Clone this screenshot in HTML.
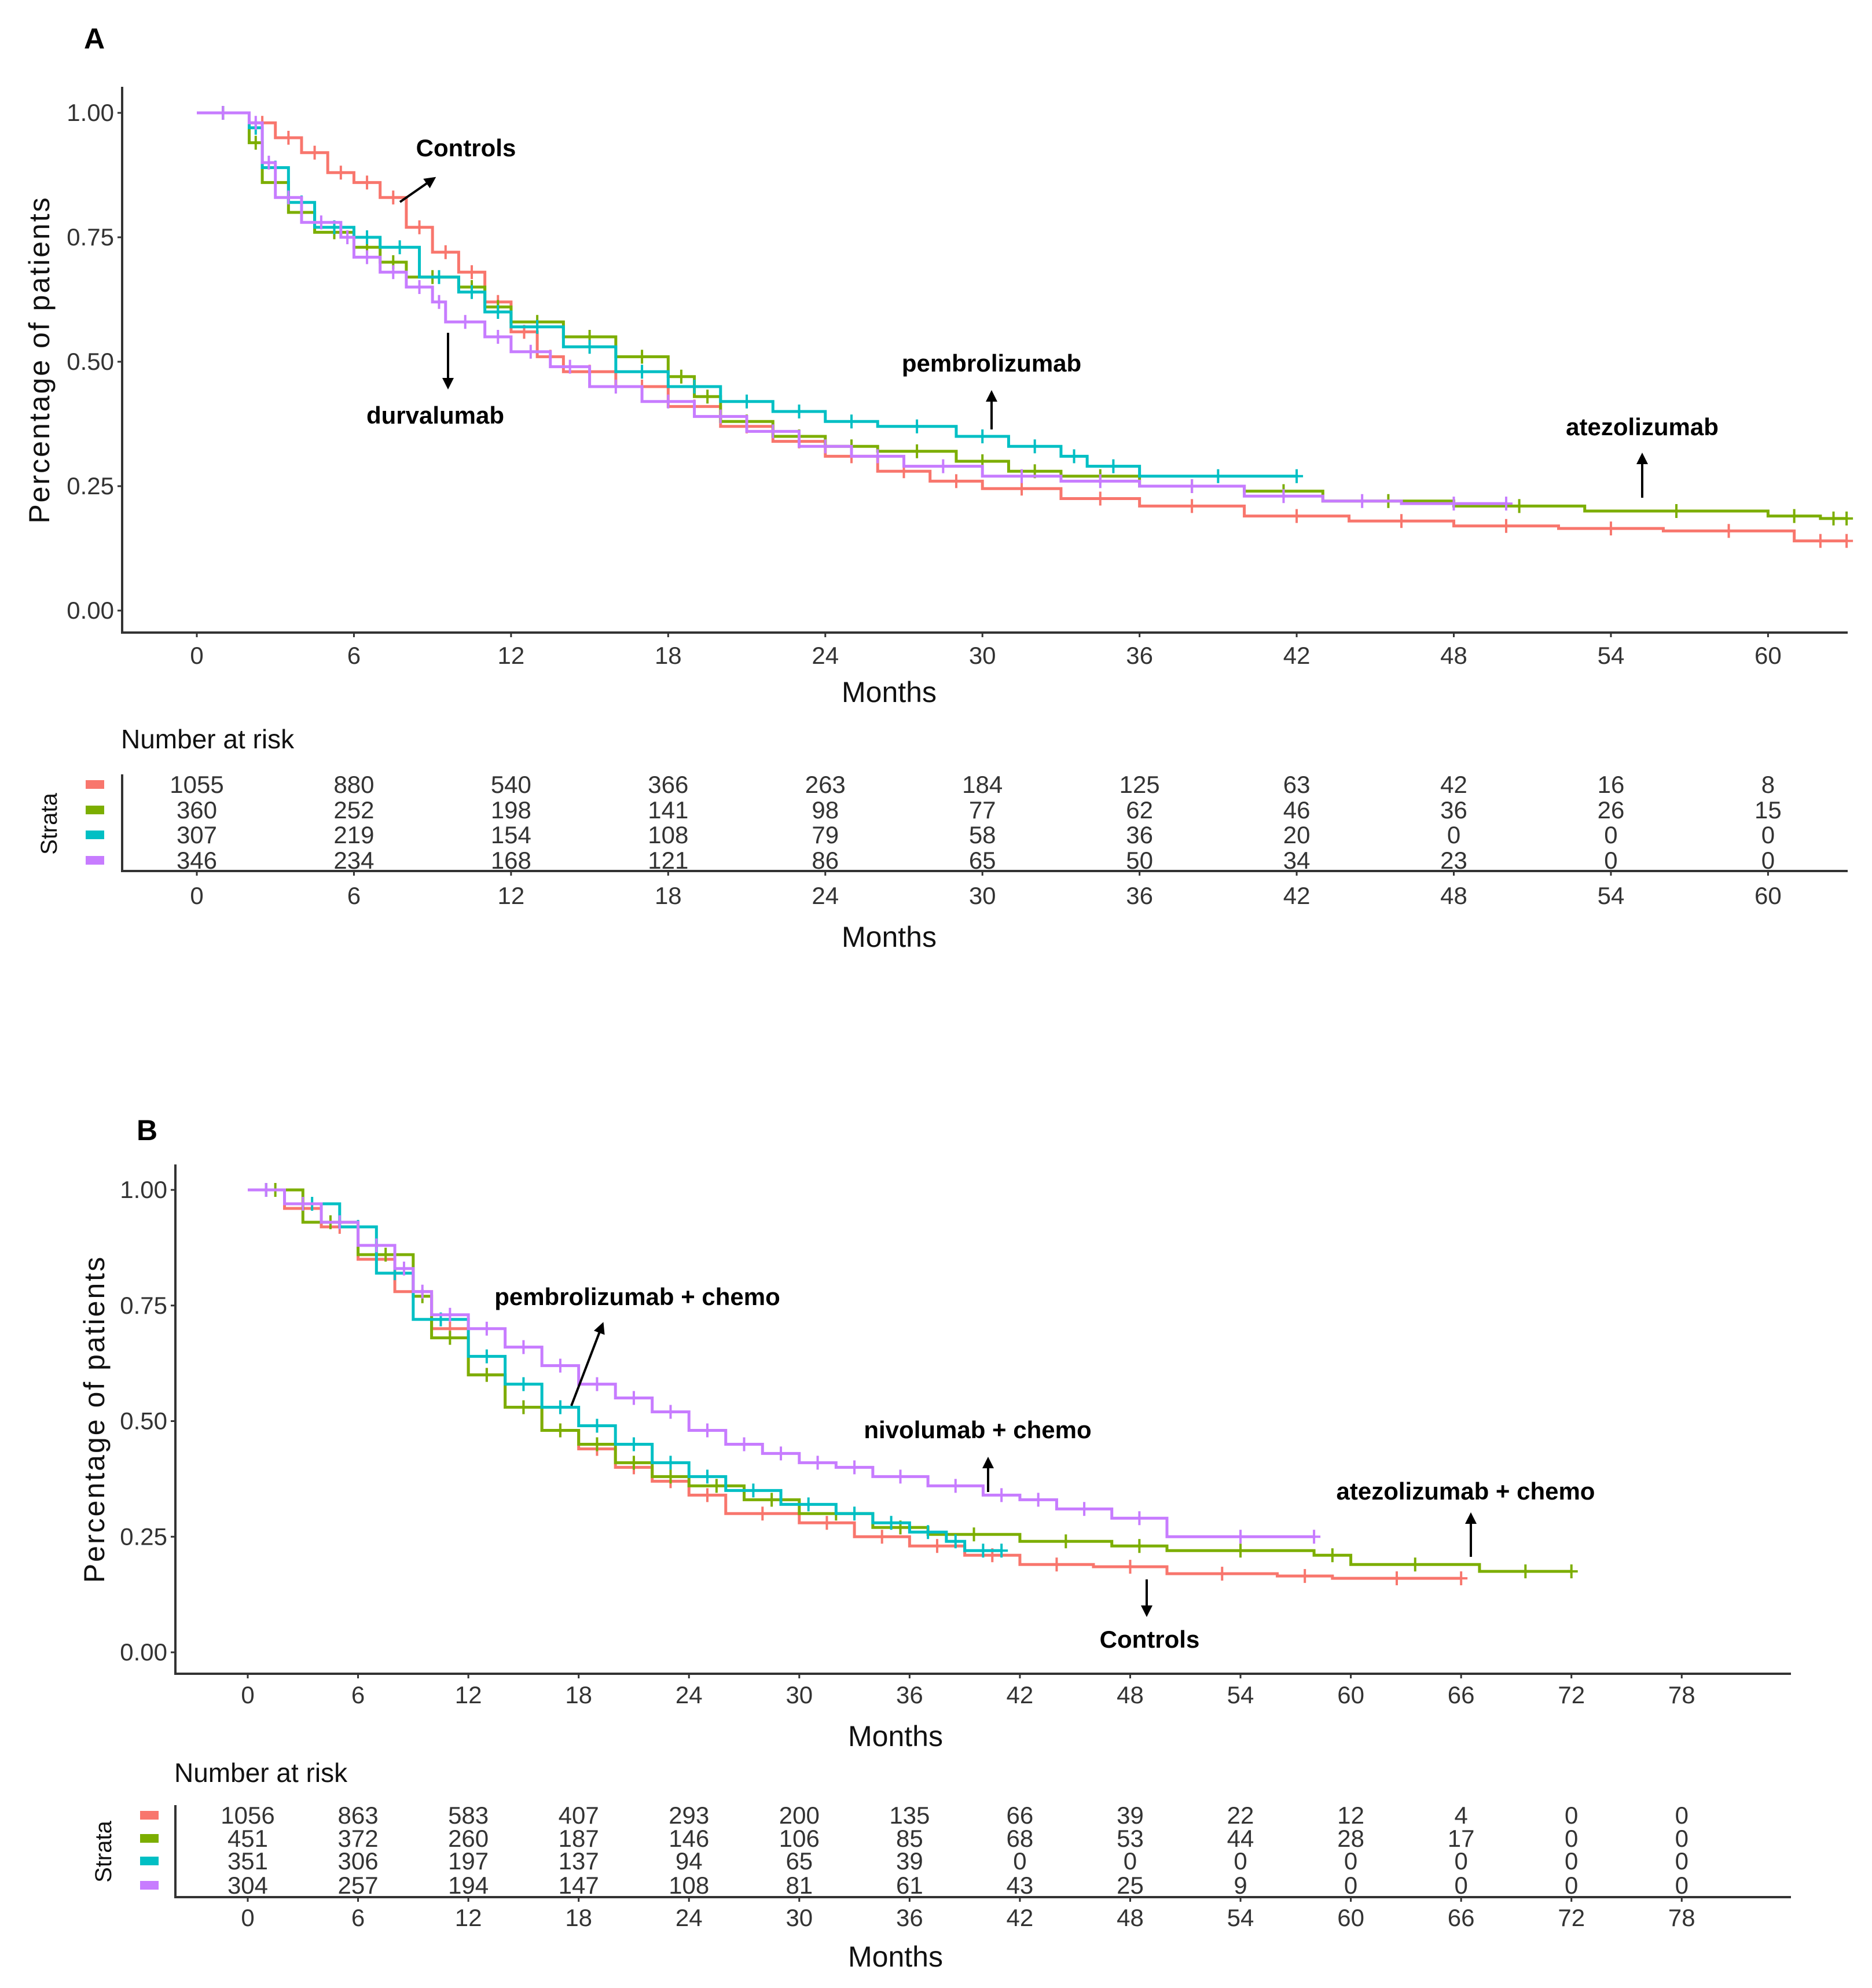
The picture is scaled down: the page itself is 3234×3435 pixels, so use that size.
<!DOCTYPE html>
<html><head><meta charset="utf-8"><style>
html,body{margin:0;padding:0;background:#fff}
svg{display:block}
.tk{font-family:"Liberation Sans Narrow","Liberation Sans",sans-serif;font-size:42px;fill:#333}
.ttl{font-family:"Liberation Sans",sans-serif;font-size:50px;fill:#111}
.ann{font-family:"Liberation Sans",sans-serif;font-weight:bold;font-size:42px;fill:#000}
</style></head><body>
<svg id="fig" width="3234" height="3435" viewBox="0 0 3234 3435" xmlns="http://www.w3.org/2000/svg">
<defs><marker id="ah" viewBox="0 0 10 10" refX="8" refY="5" markerWidth="5" markerHeight="5" orient="auto"><path d="M0,0L10,5L0,10z" fill="#000"/></marker></defs>
</svg>
<script>
// ---------- Panel A data ----------
const monthsTicksA = [0,6,12,18,24,30,36,42,48,54,60];
const survTicks = [0,0.25,0.5,0.75,1];
const survLabels = ["0.00","0.25","0.50","0.75","1.00"];
const aControlsT = [0,2,3,4,5,6,7,8,9,10,11,12,13,14,16,18,20,22,24,26,28,30,33,36,40,44,48,52,56,61,63];
const aControlsS = [1,0.98,0.95,0.92,0.88,0.86,0.83,0.77,0.72,0.68,0.62,0.56,0.51,0.48,0.45,0.41,0.37,0.34,0.31,0.28,0.26,0.245,0.225,0.21,0.19,0.18,0.17,0.165,0.16,0.14,0.14];
const aAtezoT = [0,2,2.5,3.5,4.5,6,7,8,10,11,12,14,16,18,19,20,22,24,26,29,31,33,36,40,43,48,53,60,62,63];
const aAtezoS = [1,0.94,0.86,0.80,0.76,0.73,0.70,0.67,0.65,0.61,0.58,0.55,0.51,0.47,0.43,0.38,0.35,0.33,0.32,0.30,0.28,0.27,0.25,0.24,0.22,0.21,0.20,0.19,0.185,0.185];
const aPembroT = [0,2,2.5,3.5,4.5,6,7,8.5,10,11,12,14,16,18,20,22,24,26,29,31,33,34,36,42];
const aPembroS = [1,0.97,0.89,0.82,0.77,0.75,0.73,0.67,0.64,0.60,0.57,0.53,0.48,0.45,0.42,0.40,0.38,0.37,0.35,0.33,0.31,0.29,0.27,0.27];
const aDurvaT = [0,2,2.5,3,4,5.5,6,7,8,9,9.5,11,12,13.5,15,17,19,21,23,25,27,30,33,36,40,43,46,50];
const aDurvaS = [1,0.98,0.90,0.83,0.78,0.75,0.71,0.68,0.65,0.62,0.58,0.55,0.52,0.49,0.45,0.42,0.39,0.36,0.33,0.31,0.29,0.27,0.26,0.25,0.23,0.22,0.215,0.215];
const riskA = [[1055,880,540,366,263,184,125,63,42,16,8],[360,252,198,141,98,77,62,46,36,26,15],[307,219,154,108,79,58,36,20,0,0,0],[346,234,168,121,86,65,50,34,23,0,0]];
// ---------- Panel B data ----------
const monthsTicksB = [0,6,12,18,24,30,36,42,48,54,60,66,72,78];
const bControlsT = [0,2,4,6,8,10,12,14,16,18,20,22,24,26,30,33,36,39,42,46,50,56,59,66];
const bControlsS = [1,0.96,0.92,0.85,0.78,0.70,0.60,0.53,0.48,0.44,0.40,0.37,0.34,0.30,0.28,0.25,0.23,0.21,0.19,0.185,0.17,0.165,0.16,0.16];
const bAtezoT = [0,3,6,9,10,12,14,16,18,20,22,24,27,30,34,37,42,47,50,58,60,67,72];
const bAtezoS = [1,0.93,0.86,0.77,0.68,0.60,0.53,0.48,0.45,0.41,0.38,0.36,0.33,0.30,0.27,0.255,0.24,0.23,0.22,0.21,0.19,0.175,0.175];
const bNivoT = [0,2,5,7,9,12,14,16,18,20,22,24,26,29,32,34,36,38,39,41];
const bNivoS = [1,0.97,0.92,0.82,0.72,0.64,0.58,0.53,0.49,0.45,0.41,0.38,0.35,0.32,0.30,0.28,0.26,0.24,0.22,0.22];
const bPembroT = [0,2,4,6,8,9,10,12,14,16,18,20,22,24,26,28,30,32,34,37,40,42,44,47,50,58];
const bPembroS = [1,0.97,0.93,0.88,0.83,0.78,0.73,0.70,0.66,0.62,0.58,0.55,0.52,0.48,0.45,0.43,0.41,0.40,0.38,0.36,0.34,0.33,0.31,0.29,0.25,0.25];
const riskB = [[1056,863,583,407,293,200,135,66,39,22,12,4,0,0],[451,372,260,187,146,106,85,68,53,44,28,17,0,0],[351,306,197,137,94,65,39,0,0,0,0,0,0,0],[304,257,194,147,108,81,61,43,25,9,0,0,0,0]];
const colors = ["#F8766D","#7CAE00","#00BFC4","#C77CFF"];

const svg = document.getElementById('fig');
const NS = "http://www.w3.org/2000/svg";
function mk(tag, attrs, parent){const e=document.createElementNS(NS,tag);for(const k in attrs)e.setAttribute(k,attrs[k]);(parent||svg).appendChild(e);return e;}
function txt(x,y,s,cls,anchor,parent){const t=mk('text',{x:x,y:y,class:cls,'text-anchor':anchor||'middle'},parent);t.textContent=s;return t;}

function panel(cfg){
  const g = mk('g',{});
  
  
  const X = m => cfg.x0 + m*cfg.px;
  const Y = s => cfg.y0 + (cfg.y1 - cfg.y0)*s;
  const L = txt(cfg.letterX, cfg.letterY, cfg.letter, 'ann', 'start', g);
  L.setAttribute('style','font-size:50px');
  
  
  const ax = mk('path',{d:`M${cfg.left},${cfg.top}V${cfg.bottom}H${cfg.right}`,fill:'none',stroke:'#333','stroke-width':4},g);
  
  
  survTicks.forEach((s,i)=>{
    mk('line',{x1:cfg.left-8,x2:cfg.left,y1:Y(s),y2:Y(s),stroke:'#333','stroke-width':3},g);
    const t = txt(cfg.left-14, Y(s)+14, survLabels[i], 'tk', 'end', g);
    
    
  });
  cfg.ticks.forEach(m=>{
    mk('line',{x1:X(m),x2:X(m),y1:cfg.bottom,y2:cfg.bottom+8,stroke:'#333','stroke-width':3},g);
    const t = txt(X(m), cfg.tickY, String(m), 'tk', 'middle', g);
    
    
  });
  const xt = txt(cfg.titleX, cfg.xTitleY, 'Months', 'ttl', 'middle', g);
  
  
  const yt = txt(0,0,'Percentage of patients','ttl','middle',g);
  yt.setAttribute('transform',`translate(${cfg.yTitleX},${(cfg.top+cfg.bottom)/2}) rotate(-90)`);
  yt.setAttribute('style','letter-spacing:3px');
  
  
  cfg.series.forEach((sr,si)=>{
    let d = `M${X(sr.t[0])},${Y(sr.s[0])}`;
    for(let i=1;i<sr.t.length;i++){ d += `H${X(sr.t[i])}V${Y(sr.s[i])}`; }
    const p = mk('path',{d:d,fill:'none',stroke:colors[si],'stroke-width':5},g);
    
    
    for(let i=0;i<sr.t.length-1;i++){
      const mx = X((sr.t[i]+sr.t[i+1])/2), my = Y(sr.s[i]);
      const c = mk('path',{d:`M${mx-11},${my}h22M${mx},${my-12}v24`,stroke:colors[si],'stroke-width':4},g);
      
      
    }
    const last = sr.t.length-1;
    const c2 = mk('path',{d:`M${X(sr.t[last])-11},${Y(sr.s[last])}h22M${X(sr.t[last])},${Y(sr.s[last])-12}v24`,stroke:colors[si],'stroke-width':4},g);
    
    
  });
  cfg.ann.forEach(a=>{
    const t = txt(a.tx, a.ty, a.label, 'ann', 'middle', g);
    
    
    const l = mk('line',{x1:a.x1,y1:a.y1,x2:a.x2,y2:a.y2,stroke:'#000','stroke-width':4,'marker-end':'url(#ah)'},g);
    
    
  });
  const nr = txt(cfg.left-2, cfg.nrY, 'Number at risk', 'ttl', 'start', g);
  nr.setAttribute('style','font-size:46px');
  
  
  mk('path',{d:`M${cfg.left},${cfg.rowY[0]-30}V${cfg.tabAxis}H${cfg.right}`,fill:'none',stroke:'#333','stroke-width':4},g);
  cfg.risk.forEach((row,ri)=>{
    const sq = mk('rect',{x:cfg.sqX,y:cfg.rowY[ri]-20,width:32,height:15,fill:colors[ri]},g);
    
    
    row.forEach((v,ci)=>{
      const t = txt(X(cfg.ticks[ci]), cfg.rowY[ri]+2, String(v), 'tk', 'middle', g);
      
      
    });
  });
  const st = txt(0,0,'Strata','ttl','middle',g);
  st.setAttribute('style','font-size:40px');
  st.setAttribute('transform',`translate(${cfg.strataX},${(cfg.rowY[0]+cfg.rowY[3])/2-10}) rotate(-90)`);
  
  
  cfg.ticks.forEach(m=>{
    mk('line',{x1:X(m),x2:X(m),y1:cfg.tabAxis,y2:cfg.tabAxis+8,stroke:'#333','stroke-width':3},g);
    const t = txt(X(m), cfg.tab2TickY, String(m), 'tk', 'middle', g);
    
    
  });
  const xt2 = txt(cfg.titleX, cfg.tab2TitleY, 'Months', 'ttl', 'middle', g);
  
  
}

panel({name:'panel-a',letter:'A',letterX:145,letterY:84,titleX:1536,
  x0:340,px:45.24,y0:1055,y1:195,left:211,right:3192,top:150,bottom:1093,
  ticks:monthsTicksA,tickY:1147,xTitleY:1213,yTitleX:85,
  series:[{name:'controls',t:aControlsT,s:aControlsS},{name:'atezolizumab',t:aAtezoT,s:aAtezoS},{name:'pembrolizumab',t:aPembroT,s:aPembroS},{name:'durvalumab',t:aDurvaT,s:aDurvaS}],
  ann:[{label:'Controls',tx:805,ty:270,x1:691,y1:349,x2:750,y2:308},
       {label:'durvalumab',tx:752,ty:732,x1:774,y1:575,x2:774,y2:669},
       {label:'pembrolizumab',tx:1713,ty:642,x1:1713,y1:742,x2:1713,y2:678},
       {label:'atezolizumab',tx:2837,ty:752,x1:2837,y1:860,x2:2837,y2:786}],
  risk:riskA,nrY:1293,rowY:[1368,1412,1455,1499],sqX:148,tabAxis:1505,strataX:98,
  tab2TickY:1562,tab2TitleY:1636});

panel({name:'panel-b',letter:'B',letterX:236,letterY:1970,titleX:1547,
  x0:428,px:31.76,y0:2855,y1:2056,left:303,right:3094,top:2012,bottom:2892,
  ticks:monthsTicksB,tickY:2943,xTitleY:3017,yTitleX:180,
  series:[{name:'controls',t:bControlsT,s:bControlsS},{name:'atezolizumab-chemo',t:bAtezoT,s:bAtezoS},{name:'nivolumab-chemo',t:bNivoT,s:bNivoS},{name:'pembrolizumab-chemo',t:bPembroT,s:bPembroS}],
  ann:[{label:'pembrolizumab  + chemo',tx:1101,ty:2255,x1:987,y1:2429,x2:1041,y2:2288},
       {label:'nivolumab  + chemo',tx:1689,ty:2485,x1:1707,y1:2578,x2:1707,y2:2521},
       {label:'atezolizumab + chemo',tx:2532,ty:2591,x1:2541,y1:2690,x2:2541,y2:2617},
       {label:'Controls',tx:1986,ty:2847,x1:1981,y1:2729,x2:1981,y2:2790}],
  risk:riskB,nrY:3079,rowY:[3149,3189,3228,3270],sqX:242,tabAxis:3278,strataX:192,
  tab2TickY:3328,tab2TitleY:3398});
</script>
</body></html>
